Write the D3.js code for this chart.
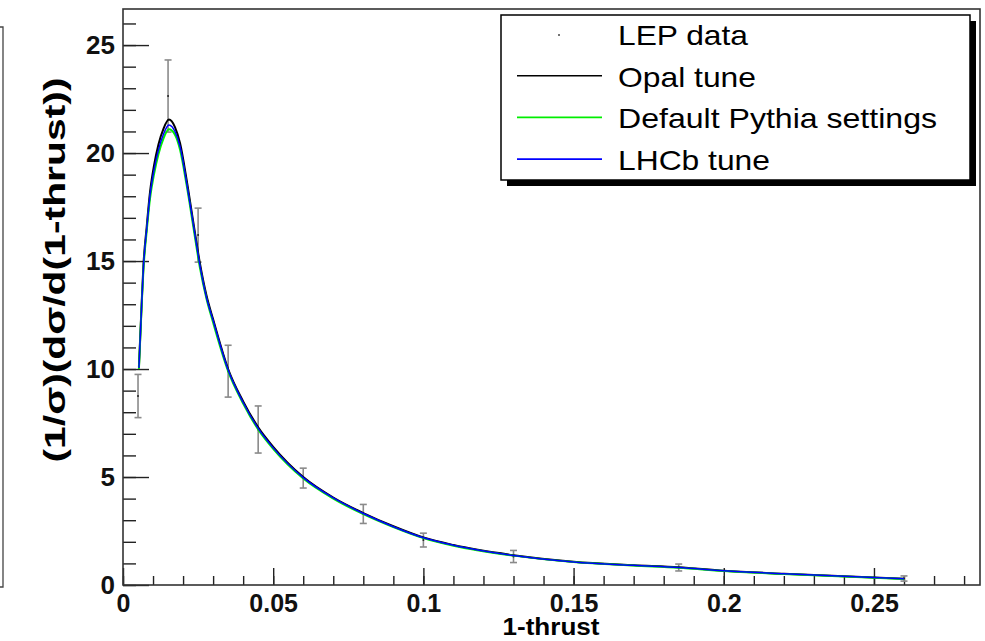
<!DOCTYPE html>
<html>
<head>
<meta charset="utf-8">
<script src="https://cdn.jsdelivr.net/npm/d3@7.9.0/dist/d3.min.js"></script>
<style>
  html, body { margin: 0; padding: 0; background: #fff; }
  svg { display: block; font-family: "Liberation Sans", Arial, sans-serif; }
</style>
</head>
<body>
<svg id="chart" width="985" height="641"></svg>
<script>
// LEP data points
const lepX = [0.005, 0.015, 0.025, 0.035, 0.045, 0.06, 0.08, 0.1, 0.13, 0.185, 0.26];
const lepY = [8.75, 22.64, 16.2, 9.9, 7.2, 4.95, 3.29, 2.08, 1.32, 0.81, 0.3];
const lepErr = [1.0, 1.67, 1.25, 1.2, 1.09, 0.46, 0.44, 0.32, 0.28, 0.16, 0.12];

// MC curves (shared x)
const mcX = [0.0053, 0.0062, 0.0068, 0.0079, 0.0090, 0.0103, 0.0118, 0.0134, 0.0153, 0.0173, 0.0190,
  0.0212, 0.0234, 0.0256, 0.0278, 0.030, 0.035, 0.040, 0.045, 0.050, 0.060, 0.070, 0.080, 0.090, 0.100,
  0.110, 0.130, 0.150, 0.170, 0.185, 0.200, 0.220, 0.240, 0.260];
const opalY = [10.1, 13.0, 14.8, 16.6, 18.2, 19.4, 20.4, 21.1, 21.55, 21.2, 20.45, 18.75, 16.8, 14.9, 13.4,
  12.3, 10.0, 8.5, 7.3, 6.4, 5.0, 4.05, 3.33, 2.72, 2.2, 1.85, 1.38, 1.08, 0.92, 0.82, 0.66, 0.52, 0.40, 0.29];
const defaultY = [10.0, 12.9, 14.6, 16.4, 17.9, 19.0, 19.95, 20.65, 21.1, 20.85, 20.15, 18.5, 16.6, 14.7, 13.25,
  12.15, 9.9, 8.4, 7.2, 6.3, 4.93, 4.0, 3.28, 2.68, 2.17, 1.82, 1.36, 1.06, 0.9, 0.8, 0.65, 0.51, 0.39, 0.28];
const lhcbY = [10.05, 12.95, 14.7, 16.5, 18.05, 19.2, 20.15, 20.85, 21.3, 21.0, 20.3, 18.6, 16.7, 14.8, 13.3,
  12.25, 9.95, 8.45, 7.25, 6.35, 4.97, 4.03, 3.31, 2.7, 2.19, 1.84, 1.37, 1.07, 0.91, 0.81, 0.66, 0.52, 0.40, 0.29];

const xMajor = [0, 0.05, 0.1, 0.15, 0.2, 0.25];
const xMinor = d3.range(0, 0.285, 0.01);
const yMajor = [0, 5, 10, 15, 20, 25];
const yMinor = d3.range(0, 27, 1);

const legendItems = [
  { label: 'LEP data', type: 'point', color: '#000' },
  { label: 'Opal tune', type: 'line', color: '#000' },
  { label: 'Default Pythia settings', type: 'line', color: '#00ee00' },
  { label: 'LHCb tune', type: 'line', color: '#0000ff' }
];

const svg = d3.select('#chart');
const x = d3.scaleLinear().domain([0, 0.2853]).range([123, 980]);
const y = d3.scaleLinear().domain([0, 26.67]).range([585, 9]);

// left edge of a neighbouring pad
svg.append('path').attr('d', 'M0,27H3V587H0').attr('fill', 'none').attr('stroke', '#444').attr('stroke-width', 1.3);

// y axis ticks (inside)
svg.append('g').attr('transform', 'translate(123,0)')
  .call(d3.axisLeft(y).tickValues(yMinor).tickSize(-13).tickFormat(''))
  .call(g => g.select('.domain').remove())
  .call(g => g.selectAll('line').attr('stroke', '#222').attr('stroke-width', 1.4));
svg.append('g').attr('transform', 'translate(123,0)')
  .call(d3.axisLeft(y).tickValues(yMajor).tickSize(-26).tickPadding(8).tickFormat(d3.format('d')))
  .call(g => g.select('.domain').remove())
  .call(g => g.selectAll('line').attr('stroke', '#222').attr('stroke-width', 1.4))
  .call(g => g.selectAll('text').attr('font-size', 26).attr('font-weight', 'bold')
    .attr('font-family', '"Liberation Sans", Arial, sans-serif').attr('fill', '#111'));

// x axis ticks (inside)
svg.append('g').attr('transform', 'translate(0,585)')
  .call(d3.axisBottom(x).tickValues(xMinor).tickSize(-9).tickFormat(''))
  .call(g => g.select('.domain').remove())
  .call(g => g.selectAll('line').attr('stroke', '#222').attr('stroke-width', 1.4));
svg.append('g').attr('transform', 'translate(0,585)')
  .call(d3.axisBottom(x).tickValues(xMajor).tickSize(-17).tickFormat(d => d === 0 ? '0' : String(d)))
  .call(g => g.select('.domain').remove())
  .call(g => g.selectAll('line').attr('stroke', '#222').attr('stroke-width', 1.4))
  .call(g => g.selectAll('text').attr('font-size', 25).attr('font-weight', 'bold')
    .attr('font-family', '"Liberation Sans", Arial, sans-serif').attr('fill', '#111')
    .attr('y', 0).attr('dy', 0).attr('transform', 'translate(0,27)'));

// frame
svg.append('rect').attr('x', 123).attr('y', 9).attr('width', 980 - 123).attr('height', 585 - 9)
  .attr('fill', 'none').attr('stroke', '#333').attr('stroke-width', 1.6);

// error bars
const lep = lepX.map((v, i) => ({ x: v, y: lepY[i], e: lepErr[i] }));
const eb = svg.append('g').attr('stroke', '#8a8a8a').attr('stroke-width', 1.6);
lep.forEach(d => {
  const cx = x(d.x), y1 = y(d.y + d.e), y2 = y(d.y - d.e);
  eb.append('line').attr('x1', cx).attr('x2', cx).attr('y1', y1).attr('y2', y2);
  eb.append('line').attr('x1', cx - 3.5).attr('x2', cx + 3.5).attr('y1', y1).attr('y2', y1);
  eb.append('line').attr('x1', cx - 3.5).attr('x2', cx + 3.5).attr('y1', y2).attr('y2', y2);
});
svg.append('g').selectAll('circle').data(lep).join('circle')
  .attr('cx', d => x(d.x)).attr('cy', d => y(d.y)).attr('r', 1).attr('fill', '#222');

// curves
const line = d3.line().x(d => x(d[0])).y(d => y(d[1])).curve(d3.curveMonotoneX);
const curves = [
  { ys: opalY, color: '#000', w: 2 },
  { ys: defaultY, color: '#00ee00', w: 2 },
  { ys: lhcbY, color: '#0000ff', w: 1.5 }
];
curves.forEach(c => {
  svg.append('path').datum(mcX.map((v, i) => [v, c.ys[i]]))
    .attr('d', line).attr('fill', 'none').attr('stroke', c.color).attr('stroke-width', c.w)
    .attr('stroke-linejoin', 'round');
});

// legend
svg.append('rect').attr('x', 507).attr('y', 21).attr('width', 469).attr('height', 165).attr('fill', '#000');
svg.append('rect').attr('x', 501).attr('y', 15).attr('width', 469).attr('height', 165)
  .attr('fill', '#fff').attr('stroke', '#000').attr('stroke-width', 1.5);
const lw = [130, 138, 319, 152];
legendItems.forEach((d, i) => {
  const base = 45 + i * 41.7;
  if (d.type === 'point') {
    svg.append('circle').attr('cx', 559).attr('cy', 35).attr('r', 1).attr('fill', '#444');
  } else {
    const ly = base - 11;
    svg.append('line').attr('x1', 517).attr('x2', 602).attr('y1', ly).attr('y2', ly)
      .attr('stroke', d.color).attr('stroke-width', 1.6);
  }
  svg.append('text').attr('x', 618).attr('y', base).attr('font-size', 28)
    .attr('textLength', lw[i]).attr('lengthAdjust', 'spacingAndGlyphs')
    .attr('fill', '#000').text(d.label);
});

// axis titles
svg.append('text').attr('x', 551).attr('y', 635).attr('text-anchor', 'middle')
  .attr('font-size', 23).attr('font-weight', 'bold').attr('textLength', 97)
  .attr('lengthAdjust', 'spacingAndGlyphs').text('1-thrust');
svg.append('text').attr('transform', 'translate(65,270) rotate(-90)').attr('text-anchor', 'middle')
  .attr('font-size', 30).attr('font-weight', 'bold').attr('textLength', 385)
  .attr('lengthAdjust', 'spacingAndGlyphs').text('(1/σ)(dσ/d(1-thrust))');
</script>
</body>
</html>
